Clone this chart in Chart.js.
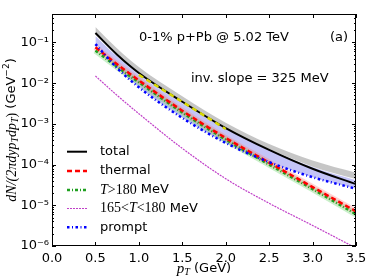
<!DOCTYPE html>
<html>
<head>
<meta charset="utf-8">
<script src="https://cdn.jsdelivr.net/npm/chart.js@4"></script>
<style>
  html, body { margin: 0; padding: 0; background: #fff; }
  #wrap { width: 374px; height: 280px; position: relative; }
</style>
</head>
<body>
<div id="wrap"><canvas id="spectrum"></canvas></div>
<script>
const ptValues = [0.5, 0.75, 1.0, 1.5, 2.0, 2.5, 3.0, 3.5];

const totalValues    = [1.7e-1, 5.0e-2, 1.78e-2, 3.5e-3, 7.9e-4, 2.3e-4, 7.9e-5, 3.3e-5];
const thermalValues  = [7.6e-2, 2.9e-2, 1.17e-2, 2.1e-3, 4.5e-4, 1.12e-4, 2.8e-5, 7.1e-6];
const hotValues      = [6.3e-2, 2.5e-2, 1.05e-2, 1.9e-3, 4.1e-4, 1.0e-4, 2.5e-5, 6.0e-6];
const midValues      = [1.5e-2, 5.0e-3, 1.78e-3, 2.5e-4, 4.5e-5, 1.12e-5, 3.2e-6, 8.9e-7];
const promptValues   = [9.1e-2, 2.35e-2, 7.9e-3, 1.4e-3, 3.4e-4, 1.15e-4, 4.9e-5, 2.55e-5];

// shaded bands
const grayUpper      = [2.4e-1, 7.1e-2, 2.5e-2, 4.8e-3, 1.07e-3, 3.2e-4, 1.26e-4, 6.3e-5];
const grayLower      = [1.66e-1, 5.0e-2, 1.74e-2, 3.5e-3, 7.9e-4, 2.4e-4, 8.9e-5, 4.4e-5];
const promptBandTop  = [1.45e-1, 4.5e-2, 1.6e-2, 3.2e-3, 7.6e-4, 2.35e-4, 8.7e-5, 4.1e-5];

// exponential fit segment (inv. slope 325 MeV)
const fitPt     = [1.0, 2.0];
const fitValues = [1.6e-2, 7.5e-4];

const xTicks = [0, 0.5, 1.0, 1.5, 2.0, 2.5, 3.0, 3.5];
const yTicks = [1e-6, 1e-5, 1e-4, 1e-3, 1e-2, 1e-1];

const SANS = '"DejaVu Sans", sans-serif';
const MATH = '"Liberation Serif", serif';
const SUP = { '-': '\u207B', '0': '\u2070', '1': '\u00B9', '2': '\u00B2', '3': '\u00B3', '4': '\u2074', '5': '\u2075', '6': '\u2076' };

function pts(xs, ys) {
    return xs.map((x, i) => ({ x: x, y: ys[i] }));
}

function line(label, data, color, width, dash, extra) {
    return Object.assign({
        label: label, data: pts(ptValues, data), borderColor: color, borderWidth: width,
        borderDash: dash || [], pointRadius: 0, fill: false, cubicInterpolationMode: 'monotone'
    }, extra || {});
}

// draws a run of text pieces with their own fonts / baseline shifts
function drawRich(ctx, segs, x, y) {
    let cx = x;
    segs.forEach(s => {
        ctx.font = s.f;
        ctx.fillText(s.t, cx, y + (s.dy || 0));
        cx += ctx.measureText(s.t).width;
    });
    return cx;
}
function richWidth(ctx, segs) {
    let w = 0;
    segs.forEach(s => { ctx.font = s.f; w += ctx.measureText(s.t).width; });
    return w;
}

const blueDash = [2.5, 2.5, 1, 2.5];

const legendRows = [
    { y: 151.7, color: '#000', width: 2, dash: [], segs: [{ t: 'total', f: '13px ' + SANS }] },
    { y: 171, color: '#ff0000', width: 2.5, dash: [5, 3], segs: [{ t: 'thermal', f: '13px ' + SANS }] },
    { y: 190, color: '#1fa01f', width: 2.5, dash: [3, 2, 1, 2], segs: [
        { t: 'T', f: 'italic 14px ' + MATH }, { t: '>180', f: '14px ' + MATH }, { t: ' MeV', f: '13px ' + SANS }] },
    { y: 208.5, color: '#c040c8', width: 1.2, dash: [2, 1], segs: [
        { t: '165<', f: '14px ' + MATH }, { t: 'T', f: 'italic 14px ' + MATH }, { t: '<180', f: '14px ' + MATH },
        { t: ' MeV', f: '13px ' + SANS }] },
    { y: 227.3, color: '#0000ff', width: 2.5, dash: blueDash, segs: [{ t: 'prompt', f: '13px ' + SANS }] }
];

const decorPlugin = {
    id: 'decor',
    afterDraw(chart) {
        const ctx = chart.ctx;
        const a = chart.chartArea;
        const xs = chart.scales.x, ys = chart.scales.y;
        ctx.save();
        ctx.strokeStyle = '#000';
        ctx.fillStyle = '#000';
        ctx.lineWidth = 1;
        // frame
        ctx.strokeRect(Math.round(a.left) + 0.5, Math.round(a.top) + 0.5,
            Math.round(a.right - a.left) - 1, Math.round(a.bottom - a.top) - 1);
        // inward ticks
        ctx.beginPath();
        xTicks.forEach(v => {
            const p = Math.round(xs.getPixelForValue(v)) + 0.5;
            ctx.moveTo(p, a.bottom); ctx.lineTo(p, a.bottom - 4);
            ctx.moveTo(p, a.top); ctx.lineTo(p, a.top + 4);
        });
        for (let d = -6; d <= -1; d++) {
            for (let m = 1; m <= 9; m++) {
                const v = m * Math.pow(10, d);
                if (v > 0.5) continue;
                const p = Math.round(ys.getPixelForValue(v)) + 0.5;
                const len = m === 1 ? 4 : 2;
                ctx.moveTo(a.left, p); ctx.lineTo(a.left + len, p);
                ctx.moveTo(a.right, p); ctx.lineTo(a.right - len, p);
            }
        }
        ctx.stroke();

        // annotations
        ctx.textBaseline = 'middle';
        ctx.textAlign = 'left';
        ctx.font = '13px ' + SANS;
        ctx.fillText('0-1% p+Pb @ 5.02 TeV', 139, 38);
        ctx.fillText('(a)', 330, 38);
        ctx.fillText('inv. slope = 325 MeV', 191, 79);

        // legend
        legendRows.forEach(r => {
            ctx.save();
            ctx.strokeStyle = r.color;
            ctx.lineWidth = r.width;
            ctx.setLineDash(r.dash);
            ctx.beginPath();
            ctx.moveTo(67, r.y); ctx.lineTo(87, r.y);
            ctx.stroke();
            ctx.restore();
            ctx.fillStyle = '#000';
            drawRich(ctx, r.segs, 100, r.y);
        });

        // x title
        const xt = [{ t: 'p', f: 'italic 15px ' + MATH }, { t: 'T', f: 'italic 10px ' + MATH, dy: 3 },
                    { t: ' (GeV)', f: '13px ' + SANS }];
        drawRich(ctx, xt, 204 - richWidth(ctx, xt) / 2, 269);

        // y title (rotated)
        const yt = [
            { t: 'dN/(2\u03C0dyp', f: 'italic 14px ' + MATH }, { t: 'T', f: 'italic 10px ' + MATH, dy: 3 },
            { t: 'dp', f: 'italic 14px ' + MATH }, { t: 'T', f: 'italic 10px ' + MATH, dy: 3 },
            { t: ')', f: '14px ' + MATH },
            { t: ' (GeV', f: '13px ' + SANS }, { t: '\u22122', f: '9px ' + SANS, dy: -5 }, { t: ')', f: '13px ' + SANS }
        ];
        ctx.translate(12, 130);
        ctx.rotate(-Math.PI / 2);
        drawRich(ctx, yt, -richWidth(ctx, yt) / 2, 0);
        ctx.restore();
    }
};

const datasets = [
    { label: 'fit', data: pts(fitPt, fitValues), borderColor: '#d8d800', borderWidth: 2.5,
      borderDash: [5, 4], pointRadius: 0, fill: false },
    line('total', totalValues, '#000000', 2),
    line('prompt', promptValues, '#0000ff', 2.5, blueDash),
    line('thermal', thermalValues, '#ff0000', 2.5, [5, 3]),
    line('T>180 MeV', hotValues, '#1fa01f', 2.5, [3, 2, 1, 2]),
    line('165<T<180 MeV', midValues, '#c040c8', 1.2, [2, 1]),
    line('thermal band', thermalValues, 'rgba(255,130,130,0.35)', 6),
    line('hot band', hotValues, 'rgba(120,215,120,0.4)', 6),
    line('gray upper', grayUpper, 'rgba(0,0,0,0)', 0, [], { fill: '+1', backgroundColor: 'rgba(160,160,160,0.6)' }),
    line('gray lower', grayLower, 'rgba(0,0,0,0)', 0),
    line('prompt band', promptBandTop, 'rgba(0,0,0,0)', 0, [], { fill: 2, backgroundColor: 'rgba(100,100,235,0.38)' })
];

new Chart(document.getElementById('spectrum'), {
    type: 'line',
    data: { datasets: datasets },
    options: {
        responsive: true,
        maintainAspectRatio: false,
        animation: false,
        layout: { padding: { top: 14, right: 18, left: 0, bottom: 0 } },
        plugins: {
            legend: { display: false },
            tooltip: { enabled: false },
            filler: { drawTime: 'beforeDatasetsDraw' }
        },
        scales: {
            x: {
                type: 'linear', min: 0, max: 3.5,
                afterBuildTicks: s => { s.ticks = xTicks.map(v => ({ value: v })); },
                afterFit: s => { s.height = 34; },
                grid: { display: false, drawTicks: false },
                border: { display: false },
                ticks: { color: '#000', font: { family: SANS, size: 13 }, padding: 5,
                         maxRotation: 0, callback: v => v.toFixed(1) }
            },
            y: {
                type: 'logarithmic', min: 1e-6, max: 0.5,
                afterBuildTicks: s => { s.ticks = yTicks.map(v => ({ value: v })); },
                afterFit: s => { s.width = 52; },
                grid: { display: false, drawTicks: false },
                border: { display: false },
                ticks: { color: '#000', font: { family: SANS, size: 13 }, padding: 3,
                         callback: v => '10' + String(Math.round(Math.log10(v))).split('').map(c => SUP[c]).join('') }
            }
        }
    },
    plugins: [decorPlugin]
});
</script>
</body>
</html>
